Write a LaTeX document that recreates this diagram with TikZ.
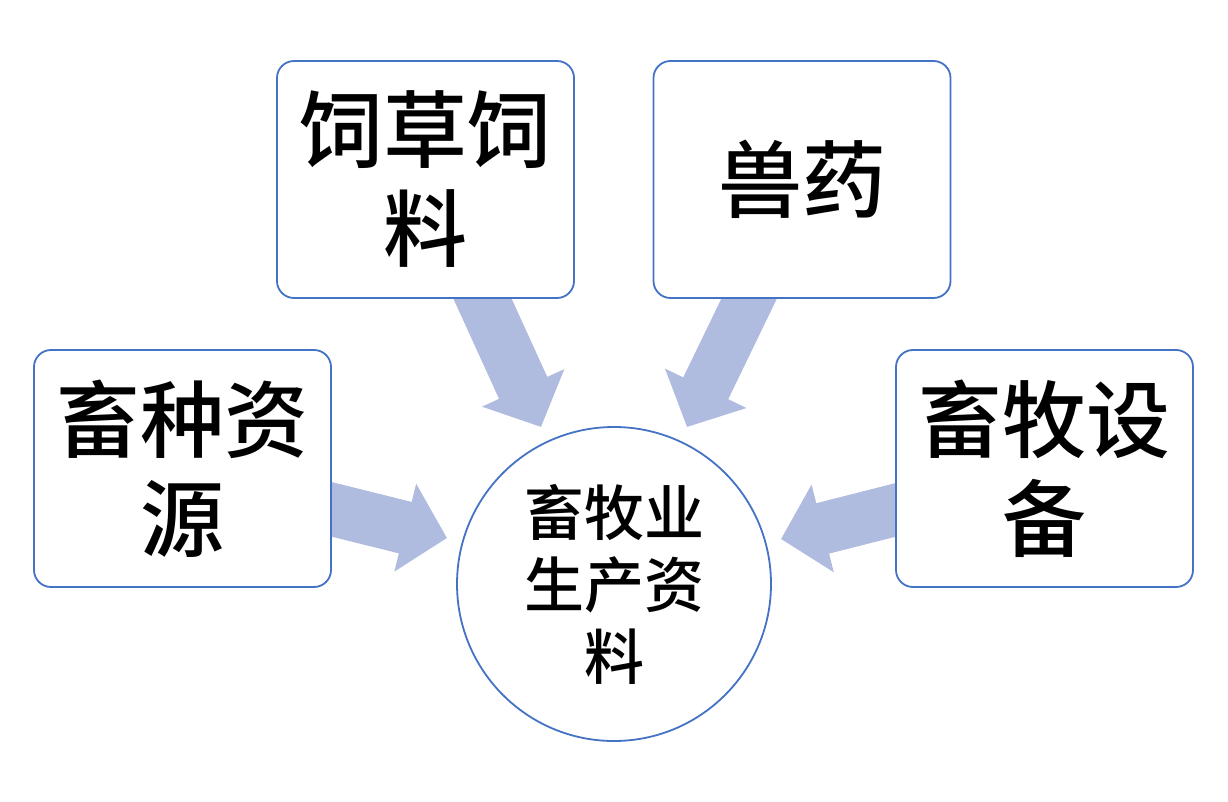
\documentclass[tikz,border=0pt]{standalone}
\usepackage{fontspec}
\setmainfont{Noto Sans CJK SC Medium}
\usetikzlibrary{arrows.meta,calc}
\definecolor{boxline}{RGB}{68,114,196}
\definecolor{arrowfill}{RGB}{176,188,223}
\pgfdeclarelayer{background}
\pgfsetlayers{background,main}
\tikzset{
  itembox/.style={draw=boxline, line width=1.8pt, rounded corners=17pt, fill=white,
    minimum width=297pt, minimum height=237pt, inner sep=0pt, align=center,
    font=\fontsize{84}{99}\selectfont},
  hubcircle/.style={draw=boxline, line width=1.8pt, circle, minimum size=314pt, inner sep=0pt,
    align=center, font=\fontsize{60}{72}\selectfont},
  bigarrow/.style={draw=arrowfill, line width=#1, line cap=butt,
    -{Triangle[length=43pt, width=88pt, fill=arrowfill, color=arrowfill]}},
}
\begin{document}
\begin{tikzpicture}[x=1pt,y=-1pt]
\useasboundingbox (0,0) rectangle (1228,802);
\node[itembox] (feed) at (425.5,179.5) {饲草饲\\料};
\node[itembox] (drug) at (802,179.5) {兽药};
\node[itembox] (breed) at (182.5,468.5) {畜种资\\源};
\node[itembox] (equip) at (1044.5,468.5) {畜牧设\\备};
\node[hubcircle] (hub) at (614,584) {畜牧业\\生产资\\料};
\coordinate (t1) at ($(hub.center)+(-73,-157)$);
\coordinate (t2) at ($(hub.center)+(73,-157)$);
\coordinate (t3) at ($(hub.center)+(-167,-46)$);
\coordinate (t4) at ($(hub.center)+(167,-45)$);
\begin{pgfonlayer}{background}
\draw[bigarrow=53pt] ($(feed.south)+(48.8,-18.2)$) -- (t1);
\draw[bigarrow=50pt] ($(drug.south)+(-44.3,-18)$) -- (t2);
\draw[bigarrow=53pt] ($(breed.east)+(-19.4,36.1)$) -- (t3);
\draw[bigarrow=52pt] ($(equip.west)+(19.4,36.6)$) -- (t4);
\end{pgfonlayer}
\end{tikzpicture}
\end{document}
